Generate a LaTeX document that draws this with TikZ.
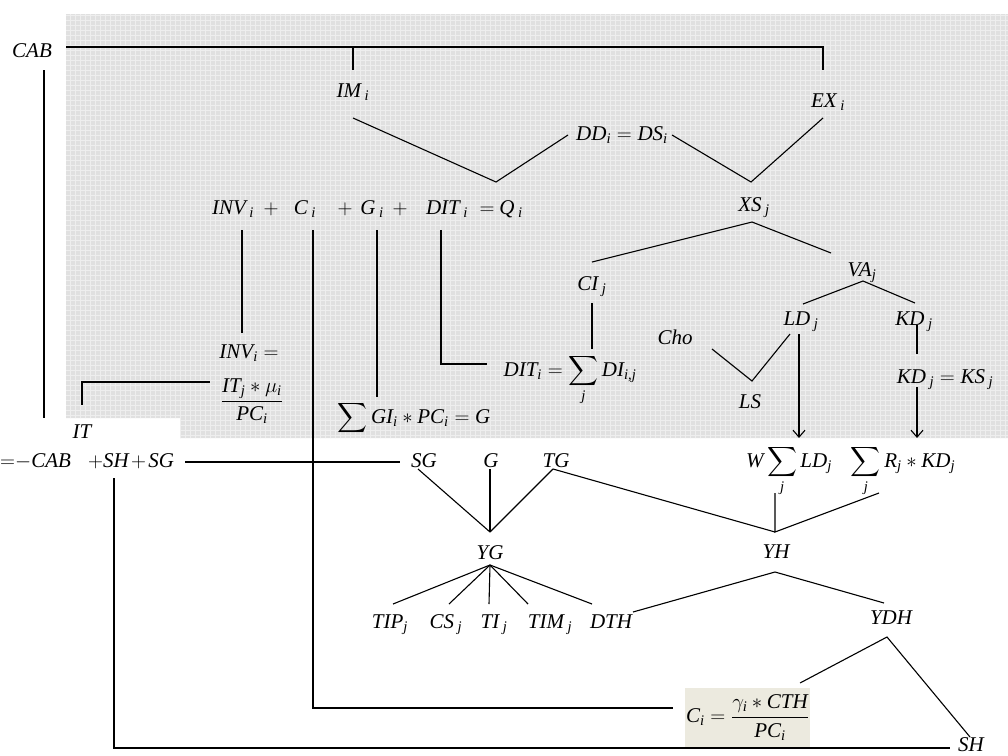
\documentclass[tikz,border=0pt]{standalone}
\usepackage{amsmath}
\usepackage{fontspec}
\setmainfont{Liberation Serif}
\usepackage{tikz}
\usetikzlibrary{arrows.meta}
\definecolor{pgray}{HTML}{E0E0E0}
\definecolor{pline}{HTML}{EEEEEE}
\definecolor{boxbeige}{HTML}{ECEADF}
\newcommand{\iv}[1]{\textit{#1}}

\begin{document}
\begin{tikzpicture}[x=1pt, y=-1pt]
    \tikzset{lbl/.style={anchor=base, inner sep=1pt, font=\fontsize{21}{25}\selectfont},
             mid/.style={anchor=center, inner sep=1pt, font=\fontsize{21}{25}\selectfont},
             heavy/.style={line width=1.6pt},
             norm/.style={line width=1.1pt},
             arr/.style={norm, -{Straight Barb[length=7pt,width=12pt]}}}
    \useasboundingbox (0,0) rectangle (1008,755);
    % shaded area
    \begin{scope}
      \clip (66,14) -- (1008,14) -- (1008,438) -- (180,438) -- (180,418) -- (66,418) -- cycle;
      \fill[pgray] (0,0) rectangle (1008,755);
      \begin{scope}[y=1pt]
        \draw[pline, line width=0.9pt, step=5] (60,-440) grid (1008,-10);
      \end{scope}
    \end{scope}

    % labels
    \node[lbl] (cab) at (32,57) {$\iv{CAB}$};
    \node[lbl] (im) at (353,97) {$\iv{IM}\,_{\iv{i}}$};
    \node[lbl] (dd) at (622,140) {$\iv{DD}_{\iv{i}} = \iv{DS}_{\iv{i}}$};
    \node[lbl] (ex) at (828,107) {$\iv{EX}\,_{\iv{i}}$};
    \node[lbl] (inv) at (233,214) {$\iv{INV}\,_{\iv{i}}$};
    \node[lbl] (p1) at (271,214) {$+$};
    \node[lbl] (ci) at (305,214) {$\iv{C}\,_{\iv{i}}$};
    \node[lbl] (p2) at (345,214) {$+$};
    \node[lbl] (gi) at (372,214) {$\iv{G}\,_{\iv{i}}$};
    \node[lbl] (p3) at (400,214) {$+$};
    \node[lbl] (dit) at (447,214) {$\iv{DIT}\,_{\iv{i}}$};
    \node[lbl] (eq) at (487,214) {$=$};
    \node[lbl] (q) at (511,214) {$\iv{Q}\,_{\iv{i}}$};
    \node[lbl] (xs) at (754,211) {$\iv{XS}\,_{\iv{j}}$};
    \node[lbl] (cij) at (592,290) {$\iv{CI}\,_{\iv{j}}$};
    \node[lbl] (va) at (862,276) {$\iv{VA}_{\iv{j}}$};
    \node[lbl] (ld) at (801,325) {$\iv{LD}\,_{\iv{j}}$};
    \node[lbl] (kd) at (914,325) {$\iv{KD}\,_{\iv{j}}$};
    \node[lbl] (cho) at (675,344) {$\iv{Cho}$};
    \node[lbl] (ls) at (750,408) {$\iv{LS}$};
    \node[lbl] (kdks) at (945,383) {$\iv{KD}\,_{\iv{j}} = \iv{KS}\,_{\iv{j}}$};
    \node[lbl] (ditsum) at (570,376) {$\iv{DIT}_{\iv{i}} = \displaystyle\sum_{\iv{j}} \iv{DI}_{\iv{i,j}}$};
    \node[lbl] (gsum) at (414,423) {$\displaystyle\sum \iv{GI}_{\iv{i}} * \iv{PC}_{\iv{i}} = \iv{G}$};
    \node[lbl] (inveq) at (249,358) {$\iv{INV}_{\iv{i}} =$};
    \node[mid] (invfr) at (252,401) {$\dfrac{\iv{IT}_{\iv{j}} * \mu_{\iv{i}}}{\iv{PC}_{\iv{i}}}$};
    \node[lbl] (it) at (82,438) {$\iv{IT}$};
    \node[lbl, anchor=base west] (sav) at (-1,467) {${=}{-}\iv{CAB}\;\;\;{+}\iv{SH}\mkern2mu{+}\mkern2mu\iv{SG}$};
    \node[lbl] (sg) at (424,467) {$\iv{SG}$};
    \node[lbl] (g) at (491,467) {$\iv{G}$};
    \node[lbl] (tg) at (556,467) {$\iv{TG}$};
    \node[lbl] (wld) at (789,467) {$\displaystyle\iv{W}\sum_{\iv{j}}\iv{LD}_{\iv{j}}$};
    \node[lbl] (rkd) at (903,467) {$\displaystyle\sum_{\iv{j}}\iv{R}_{\iv{j}} * \iv{KD}_{\iv{j}}$};
    \node[lbl] (yg) at (490,559) {$\iv{YG}$};
    \node[lbl] (yh) at (776,558) {$\iv{YH}$};
    \node[lbl] (tip) at (390,628) {$\iv{TIP}_{\iv{j}}$};
    \node[lbl] (cs) at (446,628) {$\iv{CS}\,_{\iv{j}}$};
    \node[lbl] (ti) at (494,628) {$\iv{TI}\,_{\iv{j}}$};
    \node[lbl] (tim) at (550,628) {$\iv{TIM}\,_{\iv{j}}$};
    \node[lbl] (dth) at (611,628) {$\iv{DTH}$};
    \node[lbl] (ydh) at (891,624) {$\iv{YDH}$};
    \node[mid, fill=boxbeige, minimum width=121pt, minimum height=59pt] (cbox) at (747.5,717.5)
      {$\iv{C}_{\iv{i}} = \dfrac{\gamma_{\iv{i}} * \iv{CTH}}{\iv{PC}_{\iv{i}}}$};
    \node[lbl] (sh) at (971,751) {$\iv{SH}$};

    % junction points
    \coordinate (topl) at (66,47);
    \coordinate (imtop) at (353,70);
    \coordinate (extop) at (823,70);
    \coordinate (cabv) at (44,70);
    \coordinate (imdip) at (496,182);
    \coordinate (exdip) at (751,182);
    \coordinate (xsapex) at (752,222);
    \coordinate (vaapex) at (863,281);
    \coordinate (lsdip) at (752,381);
    \coordinate (ygapex) at (490,532);
    \coordinate (yhtop) at (775,532);
    \coordinate (ygbot) at (490,565);
    \coordinate (yhbot) at (775,572);
    \coordinate (ydhbot) at (887,637);
    \coordinate (shtop) at (114,478);

    % connectors
    \draw[heavy] (topl) -- (topl -| extop) -- (extop);
    \draw[norm] (imtop) -- (imtop |- topl);
    \draw[heavy] (cabv) -- (44,418);
    \draw[norm] (353,118) -- (imdip) -- (568,135);
    \draw[norm] (672,135) -- (exdip) -- (823,118);
    \draw[norm] (592,262) -- (xsapex) -- (831,253);
    \draw[norm] (592,303) -- (592,349);
    \draw[norm] (803,304) -- (vaapex) -- (915,303);
    \draw[norm] (712,349) -- (lsdip) -- (790,334);
    \draw[arr] (799,334) -- (799,438);
    \draw[norm] (917,325) -- (917,354);
    \draw[arr] (917,387) -- (917,438);
    \draw[norm] (242,230) -- (242,333);
    \draw[heavy] (313,230) -- (313,708) -- (673,708);
    \draw[norm] (377,230) -- (377,397);
    \draw[norm] (441,230) -- (441,364) -- (487,364);
    \draw[heavy] (210,382) -- (82,382) -- (82,405);
    \draw[norm] (185,462) -- (400,462);
    \draw[heavy] (shtop) -- (114,748) -- (950,748);
    \draw[norm] (418,469) -- (ygapex);
    \draw[norm] (490,469) -- (ygapex);
    \draw[norm] (553,469) -- (ygapex);
    \draw[norm] (553,469) -- (yhtop);
    \draw[norm] (775,493) -- (yhtop) -- (879,493);
    \foreach \tx in {393,449,489,528,592}
      \draw[norm] (ygbot) -- (\tx,604);
    \draw[norm] (633,612) -- (yhbot) -- (884,603);
    \draw[norm] (800,683) -- (ydhbot) -- (970,737);
\end{tikzpicture}
\end{document}
